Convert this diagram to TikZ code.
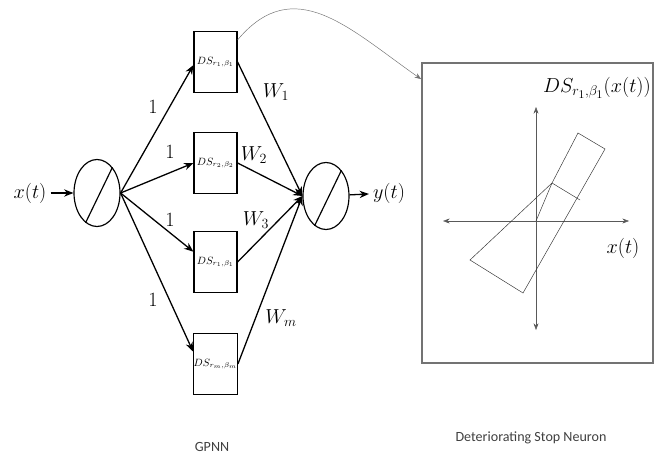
\documentclass[tikz,border=0pt]{standalone}
\usepackage{amsmath}
\usepackage{fontspec}
\newfontfamily\carlito{Carlito}
\usetikzlibrary{arrows.meta, shapes.geometric, calc}
\tikzset{
  neurone/.style={ellipse,draw,line width=1pt,minimum width=1.38cm,minimum height=2.01cm,inner sep=0pt},
  blocco/.style={rectangle,draw,line width=1pt,minimum width=1.29cm,minimum height=1.83cm,inner sep=0pt,font=\small},
  freccia/.style={line width=1.1pt,-{Stealth[length=2.8mm,width=2.2mm]}},
  etichetta/.style={font=\LARGE},
  didascalia/.style={font=\carlito\fontsize{12}{14}\selectfont,text=black!75}
}

\begin{document}
\begin{tikzpicture}[x=0.03cm,y=-0.03cm]
\useasboundingbox (0,0) rectangle (657,457);

% neuroni di ingresso e di uscita
\node[etichetta] (xin) at (30,193) {$x(t)$};
\node[neurone] (in) at (97,193) {};
\draw[line width=1pt] (in.-111) -- (in.59);
\node[neurone] (out) at (326,196) {};
\draw[line width=1pt] (out.-111) -- (out.59);
\node[etichetta] (yout) at (389,193) {$y(t)$};

% blocchi DS
\node[blocco] (ds1) at (215.5,62) {$DS_{r_1,\beta_1}$};
\node[blocco] (ds2) at (215.5,163) {$DS_{r_2,\beta_2}$};
\node[blocco] (ds3) at (215.5,262) {$DS_{r_1,\beta_1}$};
\node[blocco] (ds4) at (215.5,364) {$DS_{r_m,\beta_m}$};

% collegamenti
\draw[freccia] (xin) -- (in);
\draw[freccia] (out) -- (yout);
\draw[freccia] (in.east) -- (ds1.188);
\draw[freccia] (in.east) -- (ds2.west);
\draw[freccia] (in.east) -- (ds3.155);
\draw[freccia] (in.east) -- (ds4.151);
\foreach \k in {1,...,4}{
  \draw[freccia] (ds\k.east) -- (out.west);
}

% pesi
\node[etichetta] (u1) at (153,107) {$1$};
\node[etichetta] (u2) at (170,152) {$1$};
\node[etichetta] (u3) at (170,220) {$1$};
\node[etichetta] (u4) at (153,300) {$1$};
\node[etichetta] (w1) at (276,92) {$W_1$};
\node[etichetta] (w2) at (254,155) {$W_2$};
\node[etichetta] (w3) at (256,220) {$W_3$};
\node[etichetta] (wm) at (281,318) {$W_m$};

% riquadro del neurone
\node[draw=black!55,line width=1.4pt,minimum width=6.93cm,minimum height=9cm] (dsn) at (537.5,213) {};
\draw[black!55,-{Stealth[length=2mm]}] (ds1.45) to[out=50,in=145,looseness=1.2] (dsn.131);

% assi
\coordinate (o) at (536,221);
\draw[black!65,{Stealth[length=2mm]}-{Stealth[length=2mm]}] (443,221) -- (629,221);
\draw[black!65,{Stealth[length=2mm]}-{Stealth[length=2mm]}] (536,107) -- (536,330);
\node[etichetta] (lds) at (597,88) {$DS_{r_1,\beta_1}(x(t))$};
\node[etichetta] (lx) at (623,248) {$x(t)$};

% caratteristica
\draw[black!80] (578,133) -- (605,149) -- (523,293) -- (470,260) -- (552,183) -- cycle;
\draw[black!80] (552,183) -- (o);
\draw[black!80] (552,183) -- (580,200);

% didascalie
\node[didascalia] (gpnn) at (212,447) {GPNN};
\node[didascalia] (dsnlab) at (531,438) {Deteriorating Stop Neuron};

\end{tikzpicture}
\end{document}
